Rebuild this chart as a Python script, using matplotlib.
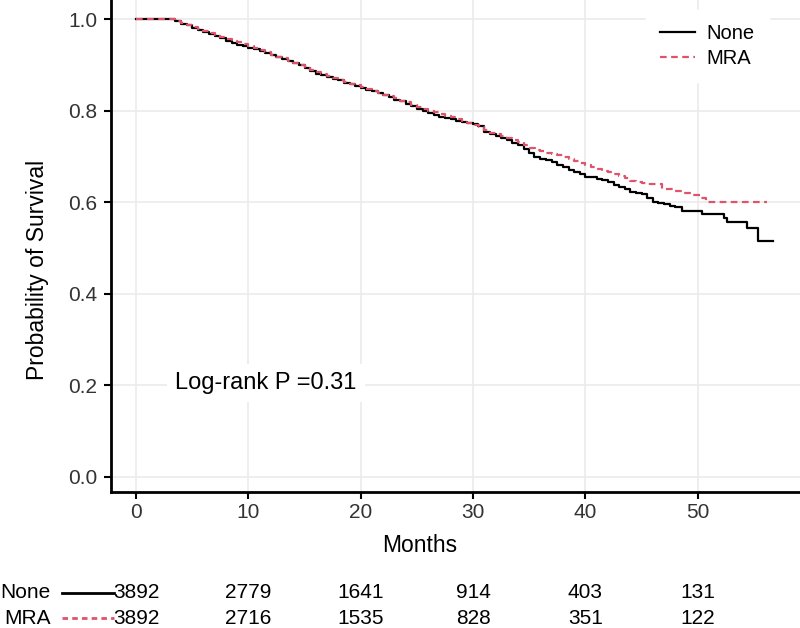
import matplotlib
matplotlib.use("Agg")
import matplotlib.pyplot as plt
from matplotlib import transforms
from matplotlib.lines import Line2D

plt.rcParams['font.family'] = ['Liberation Sans', 'DejaVu Sans']

# ---- data ----
none_t = [0, 3.0, 3.5, 4, 4.5, 5, 5.5, 6, 6.5, 7, 7.5, 8, 8.5, 9, 9.5, 10, 10.5, 11, 11.5, 12,
          12.5, 13, 13.5, 14, 14.5, 15, 15.5, 16, 16.5, 17, 17.5, 18, 18.5, 19, 19.5, 20, 20.5,
          21, 21.5, 22, 22.5, 23, 23.5, 24, 24.5, 25, 25.5, 26, 26.5, 27, 27.5, 28, 28.5, 29,
          29.5, 30, 30.4, 31, 31.5, 32, 32.5, 33, 33.5, 34, 34.5, 35, 35.4, 36, 36.5, 37, 37.5,
          38, 38.5, 39, 39.5, 40, 40.5, 41, 41.5, 42, 42.5, 43, 43.5, 44, 44.5, 45, 45.5, 46,
          46.5, 47, 47.5, 48, 48.6, 50.4, 52.3, 52.6, 54.4, 55.4, 56.7]
none_s = [1.000, 1.000, 0.995, 0.990, 0.986, 0.981, 0.976, 0.972, 0.967, 0.962, 0.958, 0.953,
          0.948, 0.944, 0.940, 0.937, 0.934, 0.930, 0.926, 0.922, 0.918, 0.913, 0.909, 0.904,
          0.899, 0.893, 0.886, 0.880, 0.877, 0.873, 0.870, 0.866, 0.861, 0.857, 0.853, 0.850,
          0.846, 0.842, 0.838, 0.833, 0.829, 0.824, 0.820, 0.815, 0.809, 0.803, 0.798, 0.794,
          0.790, 0.787, 0.784, 0.781, 0.778, 0.775, 0.772, 0.770, 0.766, 0.754, 0.749, 0.744,
          0.740, 0.735, 0.730, 0.724, 0.717, 0.708, 0.699, 0.695, 0.692, 0.687, 0.682, 0.677,
          0.671, 0.666, 0.661, 0.656, 0.654, 0.651, 0.648, 0.643, 0.638, 0.634, 0.628, 0.622,
          0.620, 0.617, 0.610, 0.600, 0.598, 0.595, 0.592, 0.589, 0.580, 0.575, 0.566, 0.557,
          0.544, 0.515, 0.515]

mra_t = [0, 3.0, 3.5, 4, 4.5, 5, 5.5, 6, 6.5, 7, 7.5, 8, 8.5, 9, 9.5, 10, 10.5, 11, 11.5, 12,
         12.5, 13, 13.5, 14, 14.5, 15, 15.5, 16, 16.5, 17, 17.5, 18, 18.5, 19, 19.5, 20, 20.5,
         21, 21.5, 22, 22.5, 23, 23.5, 24, 24.5, 25, 25.5, 26, 26.5, 27, 27.5, 28, 28.5, 29,
         29.5, 30, 30.5, 31, 31.5, 32, 32.5, 33, 33.5, 34, 34.5, 35, 35.5, 36, 36.5, 37, 37.5,
         38, 38.5, 39, 39.5, 40, 40.5, 41, 41.5, 42, 42.5, 43, 43.5, 44, 44.5, 45, 45.5, 46,
         46.8, 48, 48.6, 49.5, 50.3, 50.7, 56.2]
mra_s = [1.000, 1.000, 0.995, 0.991, 0.987, 0.982, 0.978, 0.973, 0.969, 0.964, 0.960, 0.956,
         0.952, 0.949, 0.946, 0.942, 0.937, 0.932, 0.927, 0.922, 0.918, 0.914, 0.909, 0.905,
         0.900, 0.895, 0.889, 0.884, 0.879, 0.875, 0.871, 0.867, 0.863, 0.859, 0.855, 0.851,
         0.847, 0.843, 0.839, 0.835, 0.831, 0.827, 0.822, 0.818, 0.813, 0.808, 0.804, 0.800,
         0.796, 0.792, 0.789, 0.785, 0.781, 0.777, 0.773, 0.769, 0.764, 0.757, 0.752, 0.748,
         0.744, 0.740, 0.736, 0.731, 0.725, 0.719, 0.715, 0.712, 0.708, 0.705, 0.702, 0.699,
         0.694, 0.690, 0.686, 0.681, 0.677, 0.672, 0.669, 0.666, 0.662, 0.657, 0.652, 0.647,
         0.644, 0.642, 0.640, 0.639, 0.629, 0.624, 0.620, 0.616, 0.608, 0.600, 0.600]

groups = ["None", "MRA"]
risk_times = [0, 10, 20, 30, 40, 50]
risk_none = [3892, 2779, 1641, 914, 403, 131]
risk_mra = [3892, 2716, 1535, 828, 351, 122]
pval_text = "Log-rank P =0.31"

x_ticks = [0, 10, 20, 30, 40, 50]
y_ticks = [0.0, 0.2, 0.4, 0.6, 0.8, 1.0]

# ---- styles ----
col_none = "black"
col_mra = "#DF536B"
grid_col = "#EBEBEB"
tick_col = "#333333"

W, H = 800, 628
fig = plt.figure(figsize=(W / 100, H / 100), dpi=100)
ax_l, ax_b = 111, 492
ax = fig.add_axes([ax_l / W, 1 - ax_b / H, 1 - ax_l / W, ax_b / H])
ax_w, ax_h = W - ax_l, ax_b

ax.plot(none_t, none_s, drawstyle="steps-post", color=col_none, lw=1.6, label=groups[0])
ax.plot(mra_t, mra_s, drawstyle="steps-post", color=col_mra, lw=1.6,
        linestyle=(0, (3, 2)), label=groups[1])

ax.set_xlim(-2.23, 59.1)
ax.set_ylim(-0.033, 1.0415)
ax.set_xticks(x_ticks)
ax.set_yticks(y_ticks)
ax.set_yticklabels([f"{v:.1f}" for v in y_ticks])
ax.grid(True, color=grid_col, lw=1.2)
ax.set_axisbelow(True)

for s in ["top", "right"]:
    ax.spines[s].set_visible(False)
for s in ["left", "bottom"]:
    ax.spines[s].set_linewidth(2.0)
    ax.spines[s].set_color("black")

ax.tick_params(axis="both", direction="out", length=5, width=1.5, color="black",
               labelsize=15, labelcolor=tick_col)
ax.tick_params(axis="y", pad=5)
ax.tick_params(axis="x", pad=3)

ax.set_xlabel("Months", fontsize=16.5)
ax.set_ylabel("Probability of Survival", fontsize=16.5)
ax.xaxis.set_label_coords((420 - ax_l) / ax_w, (ax_b - 534) / ax_h)
ax.yaxis.set_label_coords((49 - ax_l) / ax_w, (ax_b - 270) / ax_h)

leg = ax.legend(loc="upper right", bbox_to_anchor=((769 - ax_l) / ax_w, 1 - 10 / ax_h),
                fontsize=14.5, frameon=True, handlelength=1.74, handletextpad=0.6,
                labelspacing=0.3, borderpad=0.7, borderaxespad=0.0, fancybox=False)
leg.get_frame().set_facecolor("white")
leg.get_frame().set_edgecolor("white")
leg.get_frame().set_alpha(1.0)

ax.text(3.5, 0.205, pval_text, fontsize=17, va="center", ha="left",
        bbox=dict(facecolor="white", edgecolor="none", pad=6))

# ---- number at risk table ----
trans = transforms.blended_transform_factory(ax.transData, fig.transFigure)
narrow = ["Liberation Sans Narrow", "Liberation Sans", "DejaVu Sans"]
row_y = [1 - 593 / H, 1 - 618 / H]
rows = [risk_none, risk_mra]
cols = [col_none, col_mra]
styles = ["-", (0, (2, 1.5))]
for name, vals, y, c, ls in zip(groups, rows, row_y, cols, styles):
    fig.text(51 / W, y, name, ha="right", va="center", fontsize=15, family=narrow,
             color="black")
    fig.add_artist(Line2D([62 / W, 114 / W], [y, y], transform=fig.transFigure,
                          color=c, lw=2.0, linestyle=ls))
    for t, v in zip(risk_times, vals):
        fig.text(t, y, str(v), transform=trans, ha="center", va="center", fontsize=15,
                 family=narrow, color="black")

fig.savefig("out.png", dpi=100)
